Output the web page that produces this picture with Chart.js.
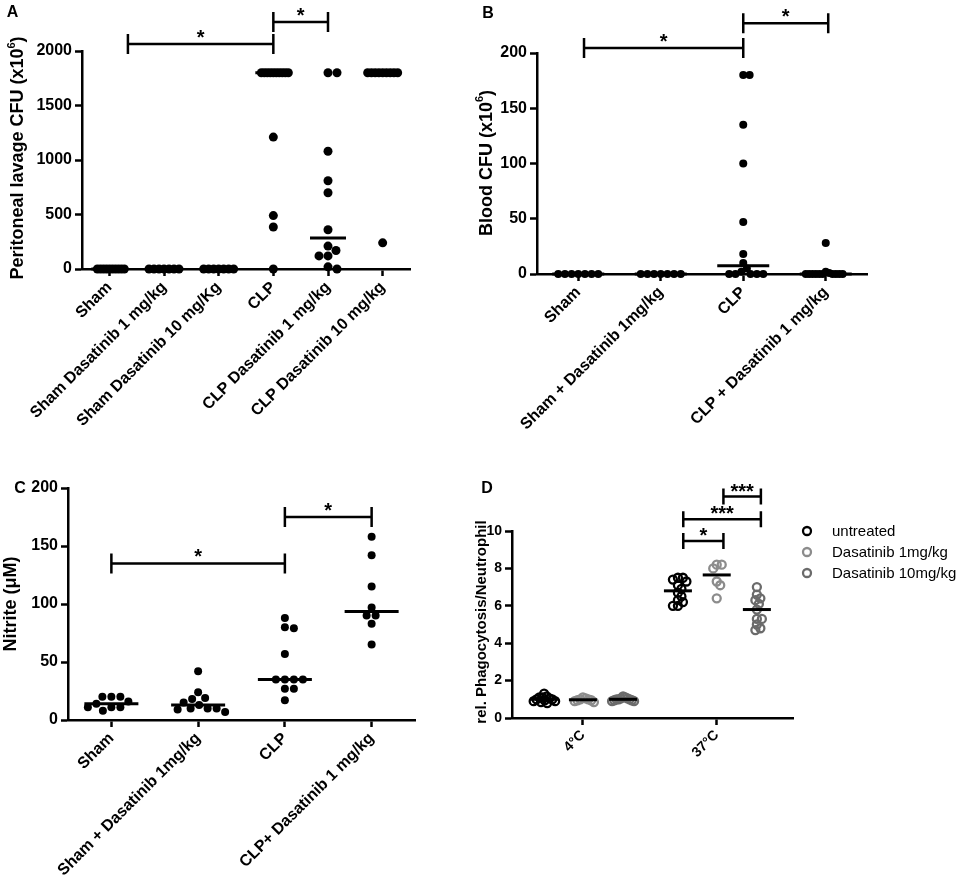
<!DOCTYPE html>
<html>
<head>
<meta charset="utf-8">
<title>Dasatinib sepsis panels</title>
<script src="https://cdn.jsdelivr.net/npm/chart.js@4.4.1/dist/chart.umd.min.js"></script>
<style>
  body { margin: 0; background: #fff; }
  #wrap { position: relative; width: 965px; height: 896px; overflow: hidden; }
  canvas { position: absolute; }
</style>
</head>
<body>
<div id="wrap">
  <canvas id="chartA" width="480" height="470" style="left:0;top:0"></canvas>
  <canvas id="chartB" width="491" height="470" style="left:474px;top:0"></canvas>
  <canvas id="chartC" width="480" height="426" style="left:0;top:470px"></canvas>
  <canvas id="chartD" width="495" height="426" style="left:470px;top:470px"></canvas>
</div>
<script>
// ---- panel A: peritoneal lavage CFU (x10^6)
const catsA = ['Sham', 'Sham Dasatinib 1 mg/kg', 'Sham Dasatinib 10 mg/Kg', 'CLP', 'CLP Dasatinib 1 mg/kg', 'CLP Dasatinib 10 mg/kg'];
const shamA = [0, 0, 0, 0, 0, 0, 0, 0, 0, 0];
const shamDas1A = [0, 0, 0, 0, 0, 0, 0];
const shamDas10A = [0, 0, 0, 0, 0, 0, 0];
const clpA = [1800, 1800, 1800, 1800, 1800, 1800, 1800, 1800, 1800, 1800, 1210, 490, 385, 0];
const clpDas1A = [1800, 1800, 1080, 810, 700, 360, 210, 170, 120, 120, 20, 0];
const clpDas10A = [1800, 1800, 1800, 1800, 1800, 1800, 1800, 1800, 1800, 240];
const sigA = [[0.34, 3, 2064, '*'], [3, 4, 2266, '*']];

// ---- panel B: blood CFU (x10^6)
const catsB = ['Sham', 'Sham + Dasatinib 1mg/kg', 'CLP', 'CLP + Dasatinib 1 mg/kg'];
const shamB = [0, 0, 0, 0, 0, 0, 0];
const shamDasB = [0, 0, 0, 0, 0, 0, 0];
const clpB = [180, 180, 135, 100, 47, 18, 10, 5, 2, 0, 0, 0, 0, 0];
const clpDasB = [28, 2, 1, 0, 0, 0, 0, 0, 0, 0, 0, 0, 0];
const sigB = [[0.07, 2, 204.5, '*'], [2, 3.03, 227, '*']];

// ---- panel C: nitrite (uM)
const catsC = ['Sham', 'Sham + Dasatinib 1mg/kg', 'CLP', 'CLP+ Dasatinib 1 mg/kg'];
const shamC = [20, 20, 20, 16, 14, 11, 11, 11, 8];
const shamDasC = [42, 24, 19, 18, 15, 13, 10, 10, 10, 9, 7];
const clpC = [88, 80, 79, 57, 35, 35, 35, 35, 27, 27, 17];
const clpDasC = [158, 142, 115, 97, 90, 90, 83, 65];
const sigC = [[0, 2, 135, '*'], [2, 3, 175, '*']];

// ---- panel D: rel. phagocytosis / neutrophil
const catsD = ['4°C', '37°C'];
const seriesD = ['untreated', 'Dasatinib 1mg/kg', 'Dasatinib 10mg/kg'];
const untreatedD = [
  [1.3, 1.15, 1.1, 1.1, 1.05, 1.0, 1.0, 0.95, 0.9, 0.9, 0.85, 0.8],
  [7.5, 7.5, 7.4, 7.3, 7.1, 6.9, 6.7, 6.5, 6.3, 6.2, 6.0, 6.0]
];
const das1D = [
  [1.1, 1.05, 1.0, 1.0, 0.95, 0.95, 0.9, 0.85],
  [8.2, 8.2, 8.0, 7.3, 7.1, 6.4]
];
const das10D = [
  [1.15, 1.1, 1.05, 1.05, 1.0, 1.0, 1.0, 0.95, 0.95, 0.9, 0.9],
  [7.0, 6.6, 6.4, 6.3, 6.1, 5.8, 5.3, 5.3, 5.0, 4.8, 4.7]
];
const sigD = [[0.75, 1.05, 9.46, '*'], [0.75, 1.33, 10.63, '***'], [1.05, 1.33, 11.84, '***']];

const FAMILY = '"Liberation Sans", Arial, Helvetica, sans-serif';
Chart.defaults.font.family = FAMILY;
Chart.defaults.color = '#000';

function median(arr) {
  const s = arr.slice().sort((a, b) => a - b);
  const m = Math.floor(s.length / 2);
  return s.length % 2 ? s[m] : (s[m - 1] + s[m]) / 2;
}

// vertical axis title, with optional superscript piece
function drawTitle(ctx, t) {
  const big = `bold ${t.size}px ${FAMILY}`;
  const small = `bold ${Math.round(t.size * 0.62)}px ${FAMILY}`;
  ctx.save();
  ctx.translate(t.x, t.y);
  ctx.rotate(-Math.PI / 2);
  ctx.textAlign = 'left';
  ctx.textBaseline = 'middle';
  let total = 0;
  t.parts.forEach(([txt, sup]) => { ctx.font = sup ? small : big; total += ctx.measureText(txt).width; });
  let pos = -total / 2;
  t.parts.forEach(([txt, sup]) => {
    ctx.font = sup ? small : big;
    ctx.fillText(txt, pos, sup ? -t.size * 0.38 : 0);
    pos += ctx.measureText(txt).width;
  });
  ctx.restore();
}

function decor(p) {
  return {
    id: 'decor',
    afterDatasetsDraw(chart) {
      const ctx = chart.ctx;
      const xs = chart.scales.x, ys = chart.scales.y;
      ctx.save();
      ctx.strokeStyle = '#000';
      ctx.fillStyle = '#000';
      // median bars
      ctx.lineWidth = 3;
      p.groups.forEach(g => {
        const px = xs.getPixelForValue(g.cx);
        const py = ys.getPixelForValue(median(g.values));
        ctx.beginPath();
        ctx.moveTo(px - p.medHalf, py);
        ctx.lineTo(px + p.medHalf, py);
        ctx.stroke();
      });
      // significance brackets
      ctx.lineWidth = 2.5;
      ctx.font = p.starFont;
      ctx.textAlign = 'center';
      ctx.textBaseline = 'alphabetic';
      p.brackets.forEach(([a, b, v, txt]) => {
        const x1 = xs.getPixelForValue(a), x2 = xs.getPixelForValue(b), py = ys.getPixelForValue(v);
        ctx.beginPath();
        ctx.moveTo(x1, py - p.capHalf); ctx.lineTo(x1, py + p.capHalf);
        ctx.moveTo(x1, py); ctx.lineTo(x2, py);
        ctx.moveTo(x2, py - p.capHalf); ctx.lineTo(x2, py + p.capHalf);
        ctx.stroke();
        ctx.fillText(txt, (x1 + x2) / 2, py + p.starLift);
      });
      // legend (panel D only)
      if (p.legend) {
        const L = p.legend;
        chart.data.datasets.forEach((ds, k) => {
          const y = L.y + k * L.gap;
          ctx.beginPath();
          ctx.lineWidth = ds.pointBorderWidth;
          ctx.strokeStyle = ds.pointBorderColor;
          ctx.arc(L.x, y, ds.pointRadius, 0, Math.PI * 2);
          ctx.stroke();
          ctx.fillStyle = '#000';
          ctx.font = L.font;
          ctx.textAlign = 'left';
          ctx.textBaseline = 'middle';
          ctx.fillText(ds.label, L.x + L.textDx, y + 1);
        });
      }
      ctx.fillStyle = '#000';
      drawTitle(ctx, p.title);
      ctx.font = `bold 16px ${FAMILY}`;
      ctx.textAlign = 'center';
      ctx.textBaseline = 'middle';
      ctx.fillText(p.letter, p.letterAt[0], p.letterAt[1]);
      ctx.restore();
    }
  };
}

// spread tied / close points sideways like a column scatter plot
function swarm(chart, collide, maxHalf) {
  const xs = chart.scales.x, ys = chart.scales.y;
  const unit = xs.getPixelForValue(1) - xs.getPixelForValue(0);
  chart.data.datasets.forEach(ds => {
    const groups = {};
    ds.data.forEach(pt => { (groups[pt.cx] = groups[pt.cx] || []).push(pt); });
    Object.values(groups).forEach(pts => {
      const placed = [];
      pts.slice().sort((a, b) => b.y - a.y).forEach(pt => {
        const py = ys.getPixelForValue(pt.y);
        let off = 0;
        for (let k = 0; k < 4000; k++) {
          const c = (k % 2 ? 1 : -1) * Math.ceil(k / 2) * 0.5;
          if (placed.every(q => (c - q.off) ** 2 + (py - q.py) ** 2 >= collide * collide - 0.01)) { off = c; break; }
        }
        placed.push({ pt, py, off });
      });
      const widest = Math.max(...placed.map(q => Math.abs(q.off)));
      const f = widest > maxHalf ? maxHalf / widest : 1;
      placed.forEach(q => { q.pt.x = q.pt.cx + q.off * f / unit; });
    });
  });
  chart.update('none');
}

function makePanel(id, p) {
  const axisGrid = { drawOnChartArea: false, tickLength: 7, tickWidth: 2.5, tickColor: '#000' };
  const axisBorder = { color: '#000', width: 2.5 };
  const chart = new Chart(document.getElementById(id), {
    type: 'scatter',
    data: { datasets: p.datasets },
    options: {
      responsive: false,
      animation: false,
      devicePixelRatio: 1,
      events: [],
      layout: { padding: { left: 0, top: p.top, right: p.right, bottom: 0 } },
      plugins: { legend: { display: false }, tooltip: { enabled: false } },
      scales: {
        x: {
          type: 'linear',
          min: p.xMin,
          max: p.xMax,
          afterBuildTicks: s => { s.ticks = p.cats.map((c, i) => ({ value: i })); },
          afterFit: s => { s.height = p.xHeight; },
          grid: axisGrid,
          border: axisBorder,
          ticks: {
            autoSkip: false, minRotation: 45, maxRotation: 45, padding: 2, color: '#000',
            font: { size: p.catSize, weight: 'bold' },
            callback: v => p.cats[Math.round(v)]
          }
        },
        y: {
          min: 0,
          max: p.yMax,
          afterFit: s => { s.width = p.yWidth; },
          grid: axisGrid,
          border: axisBorder,
          ticks: {
            stepSize: p.yStep, padding: 3, color: '#000',
            font: { size: p.tickSize, weight: 'bold' },
            callback: v => String(v)
          }
        }
      }
    },
    plugins: [decor(p)]
  });
  swarm(chart, p.collide, p.maxHalf);
  return chart;
}

function dotSets(groups, r) {
  return groups.map((vals, i) => ({
    data: vals.map(v => ({ cx: i, x: i, y: v })),
    pointRadius: r, pointHoverRadius: r, pointBorderWidth: 0,
    pointBackgroundColor: '#000', pointBorderColor: '#000', clip: false
  }));
}
function medGroups(groups) {
  return groups.map((vals, i) => ({ cx: i, values: vals }));
}

const groupsA = [shamA, shamDas1A, shamDas10A, clpA, clpDas1A, clpDas10A];
makePanel('chartA', {
  cats: catsA, datasets: dotSets(groupsA, 4.5), groups: medGroups(groupsA), brackets: sigA,
  xMin: -0.5, xMax: 5.5, yMax: 2000, yStep: 500,
  top: 51, right: 70, yWidth: 82, xHeight: 201,
  catSize: 16, tickSize: 16, collide: 9, maxHalf: 15, medHalf: 18,
  capHalf: 10, starFont: `bold 20px ${FAMILY}`, starLift: 0,
  title: { x: 18.5, y: 158, size: 18, parts: [['Peritoneal lavage CFU (x10'], ['6', true], [')']] },
  letter: 'A', letterAt: [12.5, 13]
});

const groupsB = [shamB, shamDasB, clpB, clpDasB];
makePanel('chartB', {
  cats: catsB, datasets: dotSets(groupsB, 4), groups: medGroups(groupsB), brackets: sigB,
  xMin: -0.5, xMax: 3.5, yMax: 200, yStep: 50,
  top: 53, right: 98, yWidth: 63, xHeight: 196,
  catSize: 16, tickSize: 16, collide: 6.8, maxHalf: 20, medHalf: 26,
  capHalf: 10, starFont: `bold 20px ${FAMILY}`, starLift: 0,
  title: { x: 13, y: 163, size: 18, parts: [['Blood CFU (x10'], ['6', true], [')']] },
  letter: 'B', letterAt: [14, 14]
});

const groupsC = [shamC, shamDasC, clpC, clpDasC];
makePanel('chartC', {
  cats: catsC, datasets: dotSets(groupsC, 4), groups: medGroups(groupsC), brackets: sigC,
  xMin: -0.5, xMax: 3.5, yMax: 200, yStep: 50,
  top: 18, right: 65, yWidth: 68, xHeight: 176,
  catSize: 16, tickSize: 16, collide: 9, maxHalf: 28, medHalf: 27,
  capHalf: 10, starFont: `bold 20px ${FAMILY}`, starLift: 0,
  title: { x: 11, y: 134, size: 18, parts: [['Nitrite (μM)']] },
  letter: 'C', letterAt: [20, 19]
});

const offsetsD = [-0.29, 0, 0.3];
const colorsD = ['#000000', '#8c8c8c', '#6b6b6b'];
const dataD = [untreatedD, das1D, das10D];
const datasetsD = seriesD.map((name, k) => ({
  label: name,
  data: dataD[k].flatMap((vals, j) => vals.map(v => ({ cx: j + offsetsD[k], x: j + offsetsD[k], y: v }))),
  pointRadius: 4, pointHoverRadius: 4, pointBorderWidth: 2.3,
  pointBorderColor: colorsD[k], pointBackgroundColor: 'rgba(0,0,0,0)', clip: false
}));
const groupsD = seriesD.flatMap((name, k) => catsD.map((c, j) => ({ cx: j + offsetsD[k], values: dataD[k][j] })));
makePanel('chartD', {
  cats: catsD, datasets: datasetsD, groups: groupsD, brackets: sigD,
  xMin: -0.53, xMax: 1.57, yMax: 10, yStep: 2,
  top: 61, right: 172, yWidth: 42, xHeight: 178,
  catSize: 14, tickSize: 14, collide: 5, maxHalf: 11, medHalf: 14,
  capHalf: 8, starFont: `bold 20px ${FAMILY}`, starLift: 1,
  title: { x: 12, y: 152, size: 15, parts: [['rel. Phagocytosis/Neutrophil']] },
  legend: { x: 337, y: 61, gap: 21, textDx: 25, font: `15px ${FAMILY}` },
  letter: 'D', letterAt: [17, 19]
});
</script>
</body>
</html>
